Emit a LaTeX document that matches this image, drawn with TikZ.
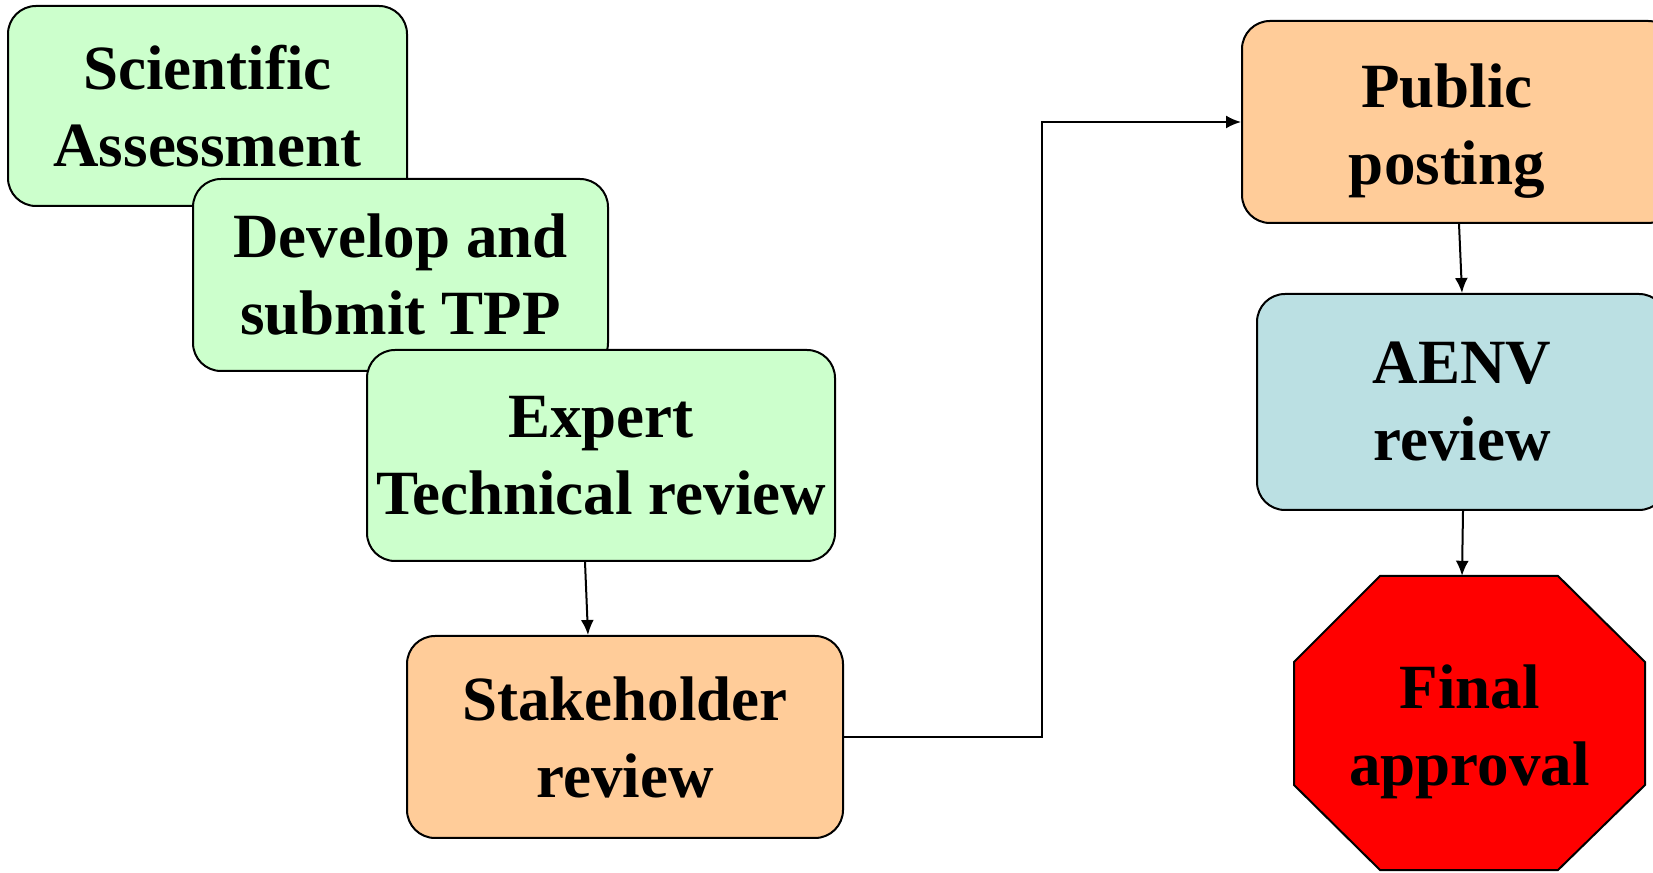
\documentclass[tikz,border=0pt]{standalone}
\usepackage{fontspec}
\setmainfont{Liberation Serif}
\usetikzlibrary{
  calc,
  arrows.meta
}
\definecolor{stepgreen}{RGB}{204,255,204}
\definecolor{steporange}{RGB}{255,204,153}
\definecolor{stepblue}{RGB}{187,224,227}
\newcommand{\topgap}{\rule{0pt}{62pt}}
\tikzset{
>={Latex[length=15pt,width=13pt]},
steptext/.style={align=center, font=\fontsize{63}{77}\selectfont\bfseries},
procbox/.style={steptext, draw, line width=2pt, rounded corners=28pt},
flow/.style={line width=2pt, ->}
}

\begin{document}
\begin{tikzpicture}[x=1pt,y=1pt]
 \useasboundingbox (0,0) rectangle (1653,872);
 % left column, overlapping steps
 \node[procbox, fill=stepgreen, minimum width=399pt, minimum height=200pt] (sci) at (207.5,766) {Scientific\\Assessment};
 \node[procbox, fill=stepgreen, minimum width=415pt, minimum height=192pt] (tpp) at (400.5,597) {Develop and\\submit TPP};
 \node[procbox, fill=stepgreen, minimum width=468pt, minimum height=211pt] (expert) at (601,416.5) {Expert\\Technical review};
 \node[procbox, fill=steporange, minimum width=436pt, minimum height=202pt] (stake) at (625,135) {Stakeholder\\review};
 % right column
 \node[procbox, fill=steporange, minimum width=434pt, minimum height=202pt] (public) at (1459,750) {\topgap Public\hspace*{24pt}\\posting\hspace*{24pt}};
 \node[procbox, fill=stepblue, minimum width=410pt, minimum height=216pt] (aenv) at (1462,470) {AENV\\review};
 \draw[line width=2pt, fill=red] (1380,296) -- (1558,296) -- (1645,210) -- (1645,87) -- (1558,2) -- (1380,2) -- (1294,87) -- (1294,210) -- cycle;
 \node[steptext, minimum width=351pt, minimum height=294pt] (final) at (1469.5,149) {\topgap Final\\approval};
 % connectors
 \coordinate (turn) at (1042,135);
 \draw[flow] ([xshift=-16pt]expert.south) -- ([xshift=-37pt]stake.north);
 \draw[flow] (stake.east) -- (turn) |- (public.west);
 \draw[flow] (public.south) -- (aenv.north);
 \draw[flow] ([xshift=1pt]aenv.south) -- ([xshift=-7.5pt]final.north);
\end{tikzpicture}
\end{document}
